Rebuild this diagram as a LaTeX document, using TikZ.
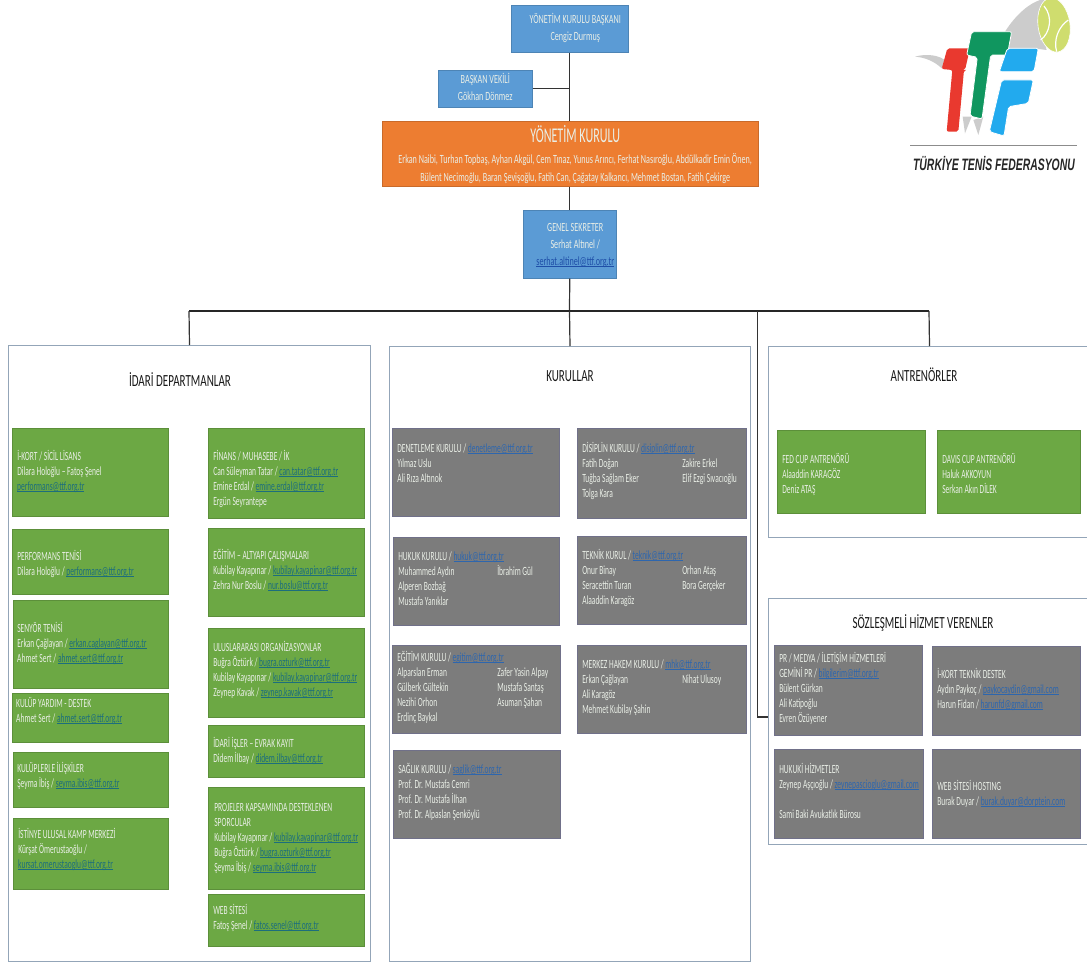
\documentclass[tikz,border=0pt]{standalone}
\usepackage{fontspec}
\setmainfont{Carlito}
\newfontfamily\boxfont[FakeStretch=0.6]{Carlito}
\newfontfamily\headfont[FakeStretch=0.65]{Carlito}
\newfontfamily\boardfont[FakeStretch=0.65]{Carlito}
\newfontfamily\bigfont[FakeStretch=0.575]{Carlito}
\newfontfamily\logofont[FakeStretch=0.63]{Liberation Sans}
\definecolor{ttfblue}{HTML}{5B9BD5}
\definecolor{ttforange}{HTML}{ED7D31}
\definecolor{ttfgreen}{HTML}{6CA844}
\definecolor{ttfgrey}{HTML}{7C7C7C}
\definecolor{panelline}{HTML}{93A5B8}
\definecolor{linkgreen}{HTML}{1C6E7D}
\definecolor{linkgrey}{HTML}{2D66AE}
\definecolor{linkblue}{HTML}{1F4FA8}
\definecolor{boxtext}{HTML}{E9EEE6}
\newsavebox{\lkbox}
\newcommand{\lk}[1]{\sbox{\lkbox}{\textcolor{linkcol}{#1}}\textcolor{linkcol}{\rlap{\rule[-1.2pt]{\wd\lkbox}{.6pt}}}\usebox{\lkbox}}
\newcommand{\cc}[2]{\makebox[#1pt][l]{#2}}
\tikzset{
  boxbase/.style={inner sep=0pt,text=boxtext},
  greenbox/.style={boxbase,fill=ttfgreen,draw=ttfgreen!85!black,line width=.5pt},
  greybox/.style={boxbase,fill=ttfgrey,draw=ttfgrey!90!blue,line width=.5pt},
  bluebox/.style={boxbase,fill=ttfblue,draw=ttfblue!85!black,line width=.5pt},
  orangebox/.style={boxbase,fill=ttforange,draw=ttforange!85!black,line width=.5pt},
  panel/.style={draw=panelline,fill=white,line width=1pt,inner sep=0pt},
  paneltitle/.style={font=\headfont\fontsize{17}{20}\selectfont,text=black!90,inner sep=0pt},
  conn/.style={draw=black!80,line width=1.2pt},
  bus/.style={draw=black!85,line width=1.6pt},
}
% name, style, x1,y1,x2,y2, text left x, text block centre y, link colour, then lines
\newcommand{\bx}[9]{%
  \pgfmathsetmacro{\bw}{#5-#3}\pgfmathsetmacro{\bh}{#6-#4}%
  \pgfmathsetmacro{\tw}{\bw-2*(#7-#3)}\pgfmathsetmacro{\dy}{(#4+#6)/2-#8-3}%
  \colorlet{linkcol}{#9}%
  \bxrest{#1}{#2}{#3}{#4}}
\newcommand{\bxrest}[5]{%
  \node[#2,anchor=north west,minimum width=\bw pt,minimum height=\bh pt] (#1) at (#3,#4)
   {\makebox[\tw pt][l]{\raisebox{\dy pt}[0pt][0pt]{\boxfont\fontsize{12.5}{15}\selectfont
    \begin{tabular}{@{}l@{}}#5\end{tabular}}}};}
% centred variant: name, style, x1,y1,x2,y2, text centre x, text centre y, lines
\newcommand{\cbx}[9]{%
  \pgfmathsetmacro{\bw}{#5-#3}\pgfmathsetmacro{\bh}{#6-#4}%
  \pgfmathsetmacro{\tdx}{2*(#7-(#3+#5)/2)}\pgfmathsetmacro{\dy}{(#4+#6)/2-#8-3}%
  \colorlet{linkcol}{linkblue}%
  \node[#2,anchor=north west,minimum width=\bw pt,minimum height=\bh pt] (#1) at (#3,#4)
   {\hspace*{\tdx pt}\raisebox{\dy pt}[0pt][0pt]{\headfont\fontsize{12.5}{17}\selectfont
    \begin{tabular}{@{}c@{}}#9\end{tabular}}};}
\begin{document}
\begin{tikzpicture}[x=1pt,y=-1pt]
\useasboundingbox (0,0) rectangle (1087,964);
\fill[white] (0,0) rectangle (1087,964);

% top chain
\cbx{pres}{bluebox}{511}{5}{628}{52}{575}{28}{YÖNETİM KURULU BAŞKANI\\Cengiz Durmuş}
\cbx{vice}{bluebox}{438}{70}{532}{107}{485}{88.5}{BAŞKAN VEKİLİ\\Gökhan Dönmez}
\node[orangebox,anchor=north west,minimum width=376pt,minimum height=65pt] (board) at (382,121)
  {\hspace*{10pt}\raisebox{-5pt}[0pt][0pt]{\fontsize{12.5}{18}\selectfont\begin{tabular}{@{}c@{}}\bigfont\fontsize{21}{21}\selectfont YÖNETİM KURULU\\[3pt]
  \boardfont\fontsize{12.5}{18}\selectfont Erkan Naibi, Turhan Topbaş, Ayhan Akgül, Cem Tınaz, Yunus Arıncı, Ferhat Nasıroğlu, Abdülkadir Emin Önen,\\
  \boardfont\fontsize{12.5}{18}\selectfont Bülent Necimoğlu, Baran Şevişoğlu, Fatih Can, Çağatay Kalkancı, Mehmet Bostan, Fatih  Çekirge\end{tabular}}};
\cbx{gensec}{bluebox}{523}{210}{616}{278}{575}{245}{GENEL SEKRETER\\Serhat Altınel /\\\lk{serhat.altinel@ttf.org.tr}}

% panels
\node[panel,anchor=north west,minimum width=362pt,minimum height=616pt] (pidari) at (8,345) {};
\node[panel,anchor=north west,minimum width=361pt,minimum height=615pt] (pkurul) at (389,346) {};
\node[panel,anchor=north west,minimum width=322pt,minimum height=191pt] (pantr) at (768,346) {};
\node[panel,anchor=north west,minimum width=322pt,minimum height=246pt] (psoz) at (768,598) {};
\node[paneltitle] (tidari) at (180,380) {İDARİ DEPARTMANLAR};
\node[paneltitle] (tkurul) at (570,376) {KURULLAR};
\node[paneltitle] (tantr) at (924,375) {ANTRENÖRLER};
\node[paneltitle] (tsoz) at (923,623) {SÖZLEŞMELİ HİZMET VERENLER};

% connectors
\coordinate (busmid) at (569.5,311);
\coordinate (busleft) at (189,311);
\coordinate (busbranch) at (757.5,311);
\coordinate (busright) at (929,311);
\coordinate (hook) at (768,717);
\draw[conn] (pres.south) -- (pres.south |- board.north);
\draw[conn] (vice.east) -- (vice.east -| pres.south);
\draw[conn] (board.south -| pres.south) -- (gensec.north -| pres.south);
\draw[conn] (gensec.south -| pres.south) -- (busmid);
\draw[bus] (busleft) -- (busright);
\draw[conn] (busleft) -- (pidari.north);
\draw[conn] (busmid) -- (pkurul.north);
\draw[conn] (busright) -- (pantr.north);
\draw[conn] (busbranch) -- (busbranch |- hook) -- (hook);

% idari, left column
\bx{a1}{greenbox}{12}{428}{168}{516}{17}{472}{linkgreen}{İ-KORT / SİCİL LİSANS\\Dilara Holoğlu – Fatoş Şenel\\\lk{performans@ttf.org.tr}}
\bx{a2}{greenbox}{12}{529}{168}{594}{17}{564.5}{linkgreen}{PERFORMANS TENİSİ\\Dilara Holoğlu / \lk{performans@ttf.org.tr}}
\bx{a3}{greenbox}{13}{600}{168}{688}{17}{644.5}{linkgreen}{SENYÖR TENİSİ\\Erkan Çağlayan / \lk{erkan.caglayan@ttf.org.tr}\\Ahmet Sert / \lk{ahmet.sert@ttf.org.tr}}
\bx{a4}{greenbox}{12}{693}{168}{742}{16}{711.5}{linkgreen}{KULÜP YARDIM - DESTEK\\Ahmet Sert / \lk{ahmet.sert@ttf.org.tr}}
\bx{a5}{greenbox}{13}{752}{168}{807}{17}{777}{linkgreen}{KULÜPLERLE İLİŞKİLER\\Şeyma İbiş / \lk{seyma.ibis@ttf.org.tr}}
\bx{a6}{greenbox}{13}{818}{168}{889}{18}{850.5}{linkgreen}{İSTİNYE ULUSAL KAMP MERKEZİ\\Kürşat Ömerustaoğlu /\\\lk{kursat.omerustaoglu@ttf.org.tr}}
% idari, right column
\bx{b1}{greenbox}{208}{428}{364}{518}{213}{479.5}{linkgreen}{FİNANS / MUHASEBE  / İK\\Can Süleyman Tatar / \lk{can.tatar@ttf.org.tr}\\Emine Erdal / \lk{emine.erdal@ttf.org.tr}\\Ergün Seyrantepe}
\bx{b2}{greenbox}{208}{528}{364}{616}{213}{571.5}{linkgreen}{EĞİTİM – ALTYAPI ÇALIŞMALARI\\Kubilay Kayapınar / \lk{kubilay.kayapinar@ttf.org.tr}\\Zehra Nur Boslu / \lk{nur.boslu@ttf.org.tr}}
\bx{b3}{greenbox}{208}{628}{364}{717}{213}{671}{linkgreen}{ULUSLARARASI ORGANİZASYONLAR\\Buğra Öztürk / \lk{bugra.ozturk@ttf.org.tr}\\Kubilay Kayapınar / \lk{kubilay.kayapinar@ttf.org.tr}\\Zeynep Kavak / \lk{zeynep.kavak@ttf.org.tr}}
\bx{b4}{greenbox}{208}{725}{364}{777}{213}{752}{linkgreen}{İDARİ İŞLER – EVRAK KAYIT\\Didem İlbay / \lk{didem.ilbay@ttf.org.tr}}
\bx{b5}{greenbox}{208}{787}{364}{889}{214}{838}{linkgreen}{PROJELER KAPSAMINDA DESTEKLENEN\\SPORCULAR\\Kubilay Kayapınar / \lk{kubilay.kayapinar@ttf.org.tr}\\Buğra Öztürk / \lk{bugra.ozturk@ttf.org.tr}\\Şeyma İbiş / \lk{seyma.ibis@ttf.org.tr}}
\bx{b6}{greenbox}{208}{894}{364}{946}{213}{919}{linkgreen}{WEB SİTESİ\\Fatoş Şenel / \lk{fatos.senel@ttf.org.tr}}

% kurullar
\bx{k1}{greybox}{392}{428}{559}{516}{397}{464}{linkgrey}{DENETLEME KURULU / \lk{denetleme@ttf.org.tr}\\Yılmaz Uslu\\Ali Rıza Altınok}
\bx{k2}{greybox}{577}{428}{746}{518}{582}{471.5}{linkgrey}{DİSİPLİN KURULU / \lk{disiplin@ttf.org.tr}\\\cc{100}{Fatih Doğan}Zakire Erkel\\\cc{100}{Tuğba Sağlam Eker}Elif Ezgi Sıvacıoğlu\\Tolga Kara}
\bx{k3}{greybox}{393}{537}{559}{625}{398}{580}{linkgrey}{HUKUK KURULU / \lk{hukuk@ttf.org.tr}\\\cc{99}{Muhammed Aydın}İbrahim Gül\\Alperen Bozbağ\\Mustafa Yanıklar}
\bx{k4}{greybox}{577}{536}{746}{624}{582}{578.5}{linkgrey}{TEKNİK KURUL / \lk{teknik@ttf.org.tr}\\\cc{100}{Onur Binay}Orhan Ataş\\\cc{100}{Seracettin Turan}Bora Gerçeker\\Alaaddin Karagöz}
\bx{k5}{greybox}{392}{645}{560}{733}{397}{688}{linkgrey}{EĞİTİM KURULU / \lk{egitim@ttf.org.tr}\\\cc{100}{Alparslan Erman}Zafer Yasin Alpay\\\cc{100}{Gülberk Gültekin}Mustafa Santaş\\\cc{100}{Nezihi Orhon}Asuman Şahan\\Erdinç Baykal}
\bx{k6}{greybox}{577}{645}{746}{733}{582}{687.5}{linkgrey}{MERKEZ HAKEM KURULU / \lk{mhk@ttf.org.tr}\\\cc{100}{Erkan Çağlayan}Nihat Ulusoy\\Ali Karagöz\\Mehmet Kubilay Şahin}
\bx{k7}{greybox}{393}{750}{560}{838}{398}{792.5}{linkgrey}{SAĞLIK KURULU / \lk{saglik@ttf.org.tr}\\Prof. Dr. Mustafa Cemri\\Prof. Dr. Mustafa İlhan\\Prof. Dr. Alpaslan Şenköylü}

% antrenorler
\bx{c1}{greenbox}{777}{430}{925}{513}{782}{475}{linkgreen}{FED CUP ANTRENÖRÜ\\Alaaddin KARAGÖZ\\Deniz ATAŞ}
\bx{c2}{greenbox}{937}{430}{1080}{513}{942}{475}{linkgreen}{DAVIS CUP ANTRENÖRÜ\\Haluk AKKOYUN\\Serkan Akın DİLEK}

% sozlesmeli
\bx{d1}{greybox}{774}{645}{922}{735}{779}{689}{linkgrey}{PR / MEDYA / İLETİŞİM HİZMETLERİ\\GEMİNİ PR / \lk{bilgilerim@ttf.org.tr}\\Bülent Gürkan\\Ali Katipoğlu\\Evren Özüyener}
\bx{d2}{greybox}{932}{646}{1080}{735}{937}{690.5}{linkgrey}{İ-KORT TEKNİK DESTEK\\Aydın Paykoç / \lk{paykocaydin@gmail.com}\\Harun Fidan / \lk{harunfd@gmail.com}}
\bx{d3}{greybox}{774}{749}{923}{838}{779}{792.5}{linkgrey}{HUKUKİ HİZMETLER\\Zeynep Aşçıoğlu / \lk{zeynepascioglu@gmail.com}\\ \\Sami Baki Avukatlık Bürosu}
\bx{d4}{greybox}{932}{749}{1080}{838}{937}{794.5}{linkgrey}{WEB SİTESİ HOSTING\\Burak Duyar / \lk{burak.duyar@dorptein.com}}

% logo
\begin{scope}[shift={(890,0)},x=0.3333pt,y=-0.3333pt]
  \fill[black!20] (345,95) .. controls (380,40) and (420,10) .. (450,0) -- (470,0) -- (445,60) -- (470,150) -- (430,145) -- (350,145) -- cycle;
  \fill[black!20] (75,170) .. controls (110,160) and (150,165) .. (170,185) -- (155,205) .. controls (135,185) and (105,172) .. (75,170) -- cycle;
  \fill[black!20] (250,360) -- (280,350) -- (265,405) -- cycle;
  \fill[black!20] (218,350) -- (245,350) -- (225,400) -- cycle;
  \draw[draw=white,line width=.6pt,fill={rgb,255:red,207;green,221;blue,110},rotate around={8:(492,75)}] (492,75) ellipse [x radius=48,y radius=82];
  \draw[white,line width=1.2pt] (462,18) .. controls (490,50) and (480,100) .. (452,120);
  \draw[white,line width=1.2pt] (535,60) .. controls (505,80) and (490,120) .. (500,155);
  \fill[rounded corners=2pt,fill={rgb,255:red,233;green,57;blue,47}] (172,145) -- (240,145) -- (225,210) -- (222,210) -- (205,395) -- (170,395) -- (187,210) -- (155,207) -- cycle;
  \draw[rounded corners=2pt,draw=white,line width=.8pt,fill={rgb,255:red,16;green,150;blue,95}] (245,95) -- (365,95) -- (352,165) -- (302,165) -- (276,357) -- (240,348) -- (262,172) -- (230,165) -- cycle;
  \draw[rounded corners=2pt,draw=white,line width=.8pt,fill={rgb,255:red,34;green,170;blue,238}] (352,145) -- (445,145) -- (432,215) -- (328,215) -- cycle;
  \draw[rounded corners=2pt,draw=white,line width=.8pt,fill={rgb,255:red,34;green,170;blue,238}] (335,240) -- (430,240) -- (415,310) -- (356,320) -- (342,408) -- (298,395) -- cycle;
  \draw[black!45,line width=.6pt] (60,436) -- (560,436);
  \node[inner sep=0pt,text=black!85,font=\logofont\bfseries\itshape\fontsize{16.5}{18}\selectfont] (logotext) at (312,490) {TÜRKİYE TENİS FEDERASYONU};
\end{scope}
\end{tikzpicture}
\end{document}
